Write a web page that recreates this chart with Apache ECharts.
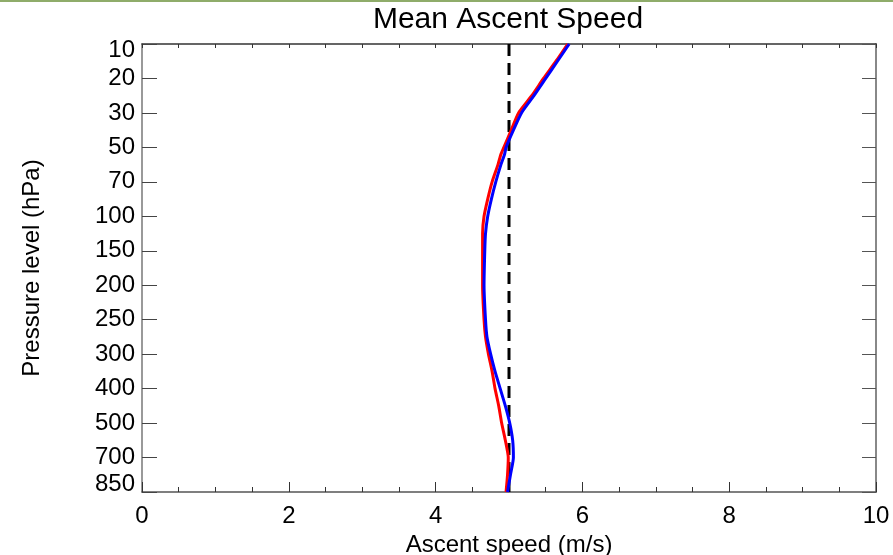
<!DOCTYPE html>
<html>
<head>
<meta charset="utf-8">
<script src="https://cdn.jsdelivr.net/npm/echarts@6/dist/echarts.min.js"></script>
<style>
  html, body { margin: 0; padding: 0; background: #fff; }
  #main { width: 893px; height: 555px; }
</style>
</head>
<body>
<div id="main"></div>
<script>
// pressure levels (tick labels), plotted by index from top (0) to bottom (13)
var levels = ['10', '20', '30', '50', '70', '100', '150', '200', '250', '300', '400', '500', '700', '850'];

// level index positions for the sampled points (half steps between levels)
var redLevelPos = [0, 0.5, 1, 1.5, 2, 2.5, 3, 3.2, 3.5, 4, 4.5, 5, 5.5, 6, 7, 8, 8.5, 9, 9.5, 10, 10.5, 11, 11.5, 12, 12.5, 13];
var redSpeed = [5.80, 5.64, 5.47, 5.31, 5.13, 5.03, 4.93, 4.89, 4.85, 4.77, 4.71, 4.66, 4.64, 4.64, 4.64, 4.66, 4.68, 4.72, 4.77, 4.81, 4.86, 4.90, 4.95, 4.99, 4.98, 4.96];

var blueLevelPos = [0, 0.5, 1, 1.5, 2, 2.5, 3, 3.2, 3.5, 4, 4.5, 5, 5.5, 6, 7, 8, 8.5, 9, 9.5, 10, 10.5, 11, 11.5, 12, 12.5, 13];
var blueSpeed = [5.82, 5.66, 5.50, 5.34, 5.17, 5.06, 4.96, 4.94, 4.89, 4.82, 4.76, 4.71, 4.68, 4.67, 4.66, 4.68, 4.70, 4.75, 4.81, 4.88, 4.95, 5.01, 5.05, 5.06, 5.02, 4.98];

// reference speed (dashed line)
var refSpeed = 5;

function pairs(xs, ys) {
  var out = [];
  for (var i = 0; i < xs.length; i++) out.push([xs[i], ys[i]]);
  return out;
}

var chart = echarts.init(document.getElementById('main'));
var fontFam = 'Liberation Sans, Arial, Helvetica, sans-serif';

var option = {
  backgroundColor: '#ffffff',
  animation: false,
  graphic: [
    { type: 'rect', left: 0, top: 0, shape: { width: 893, height: 2 }, style: { fill: '#8fac6a' } }
  ],
  title: {
    text: 'Mean Ascent Speed',
    left: 508,
    top: 5,
    padding: 0,
    textAlign: 'center',
    textStyle: { color: '#000', fontSize: 30, fontWeight: 'normal', fontFamily: fontFam }
  },
  grid: { left: 142, right: 17, top: 44, bottom: 63, containLabel: false, outerBoundsMode: 'none' },
  xAxis: [
    {
      type: 'value',
      position: 'bottom',
      min: 0,
      max: 10,
      interval: 2,
      name: 'Ascent speed (m/s)',
      nameLocation: 'middle',
      nameGap: 38,
      nameTextStyle: { color: '#000', fontSize: 24, fontFamily: fontFam },
      axisLine: { show: true, onZero: false, lineStyle: { color: '#555', width: 1.5 } },
      axisTick: { show: true, inside: true, length: 10, lineStyle: { color: '#333', width: 1 } },
      minorTick: { show: true, splitNumber: 4, length: 5, lineStyle: { color: '#333', width: 1 } },
      axisLabel: { color: '#000', fontSize: 24, margin: 12, fontFamily: fontFam, showMinLabel: true, showMaxLabel: true },
      splitLine: { show: false }
    },
    {
      type: 'value',
      position: 'top',
      min: 0,
      max: 10,
      interval: 0.5,
      axisLine: { show: true, onZero: false, lineStyle: { color: '#333', width: 1.5 } },
      axisTick: { show: true, inside: true, length: 4, lineStyle: { color: '#333', width: 1 } },
      axisLabel: { show: false },
      splitLine: { show: false }
    }
  ],
  yAxis: [
    {
      type: 'value',
      position: 'left',
      inverse: true,
      min: 0,
      max: 13,
      interval: 1,
      name: 'Pressure level (hPa)',
      nameLocation: 'middle',
      nameRotate: 90,
      nameGap: 98,
      nameTextStyle: { color: '#000', fontSize: 24, fontFamily: fontFam },
      axisLine: { show: true, onZero: false, lineStyle: { color: '#777', width: 1.5 } },
      axisTick: { show: true, inside: true, length: 15, lineStyle: { color: '#444', width: 1 } },
      axisLabel: {
        color: '#000',
        fontSize: 24,
        margin: 7,
        fontFamily: fontFam,
        showMinLabel: true,
        showMaxLabel: true,
        formatter: function (v) {
          var s = levels[Math.round(v)];
          if (Math.round(v) === 0) return '{first|' + s + '}';
          if (Math.round(v) === levels.length - 1) return '{last|' + s + '}';
          return s;
        },
        rich: {
          first: { fontSize: 24, color: '#000', fontFamily: fontFam, padding: [12, 0, 0, 0] },
          last: { fontSize: 24, color: '#000', fontFamily: fontFam, padding: [0, 0, 15, 0] }
        }
      },
      splitLine: { show: false }
    },
    {
      type: 'value',
      position: 'right',
      inverse: true,
      min: 0,
      max: 13,
      interval: 1,
      axisLine: { show: true, onZero: false, lineStyle: { color: '#888', width: 2 } },
      axisTick: { show: true, inside: true, length: 14, lineStyle: { color: '#555', width: 1 } },
      axisLabel: { show: false },
      splitLine: { show: false }
    }
  ],
  series: [
    {
      name: 'reference',
      type: 'line',
      data: [[refSpeed, 0], [refSpeed, levels.length - 1]],
      symbol: 'none',
      lineStyle: { color: '#000', width: 3, type: [12, 7] },
      z: 1
    },
    {
      name: 'red',
      type: 'line',
      data: pairs(redSpeed, redLevelPos),
      symbol: 'none',
      smooth: 0.2,
      lineStyle: { color: '#ff0000', width: 3 },
      z: 2
    },
    {
      name: 'blue',
      type: 'line',
      data: pairs(blueSpeed, blueLevelPos),
      symbol: 'none',
      smooth: 0.2,
      lineStyle: { color: '#0000ff', width: 3 },
      z: 3
    }
  ]
};

chart.setOption(option);
</script>
</body>
</html>
